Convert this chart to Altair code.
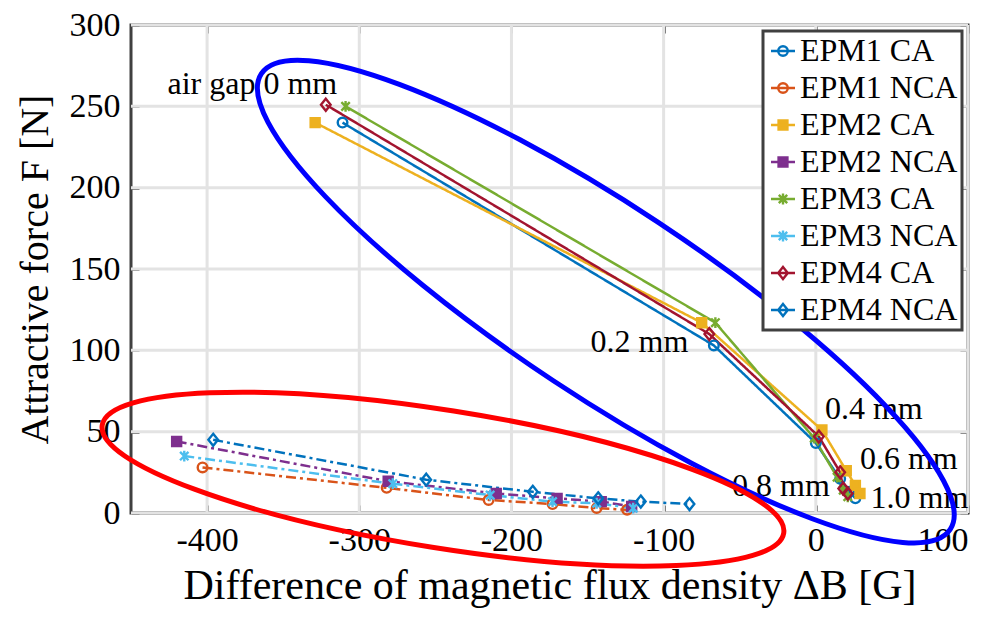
import altair as alt
import pandas as pd

# ---------------- data ----------------
series_names = ["EPM1 CA", "EPM1 NCA", "EPM2 CA", "EPM2 NCA",
                "EPM3 CA", "EPM3 NCA", "EPM4 CA", "EPM4 NCA"]
air_gap_mm = [0.0, 0.2, 0.4, 0.6, 0.8, 1.0]

epm1_ca_dB = [-311, -67, 0, 16, 22, 26]
epm1_ca_F = [240, 103, 43, 21, 13, 9]
epm1_nca_dB = [-403, -282, -215, -173, -144, -124]
epm1_nca_F = [28, 15.5, 8, 5.5, 3, 2]
epm2_ca_dB = [-329, -75, 4, 20, 26, 29]
epm2_ca_F = [240, 117, 51, 26, 17, 12]
epm2_nca_dB = [-420, -281, -210, -170, -141, -121]
epm2_nca_F = [44, 19.5, 12, 9, 7, 4]
epm3_ca_dB = [-309, -66, -1, 14, 18, 21]
epm3_ca_F = [250, 117, 46, 22, 14, 10]
epm3_nca_dB = [-415, -278, -214, -173, -144, -120]
epm3_nca_F = [35, 18, 11, 7, 6, 3]
epm4_ca_dB = [-322, -70, 2, 16, 18, 21]
epm4_ca_F = [251, 110, 47, 25, 15, 12]
epm4_nca_dB = [-396, -256, -186, -143, -115, -83]
epm4_nca_F = [45, 20.5, 13, 9, 7, 5.5]

x_ticks = [-400, -300, -200, -100, 0, 100]
y_ticks = [0, 50, 100, 150, 200, 250, 300]

ann_text = ["air gap 0 mm", "0.2 mm", "0.4 mm", "0.6 mm", "0.8 mm", "1.0 mm"]
ann_dB = [-426, -148, 6, 29, -55, 36]
ann_F = [264, 105, 64, 33, 16.5, 9.5]

# highlight ellipses (centre in data units)
blue_ell_dB, blue_ell_F = [-138], [130]
red_ell_dB, red_ell_F = [-245], [20.8]

# ---------------- build table ----------------
all_dB = [epm1_ca_dB, epm1_nca_dB, epm2_ca_dB, epm2_nca_dB,
          epm3_ca_dB, epm3_nca_dB, epm4_ca_dB, epm4_nca_dB]
all_F = [epm1_ca_F, epm1_nca_F, epm2_ca_F, epm2_nca_F,
         epm3_ca_F, epm3_nca_F, epm4_ca_F, epm4_nca_F]
rows = []
for name, bs, fs in zip(series_names, all_dB, all_F):
    for i, (b, f) in enumerate(zip(bs, fs)):
        rows.append({"series": name, "idx": i, "gap": air_gap_mm[i], "B": b, "F": f})
df = pd.DataFrame(rows)
ann_df = pd.DataFrame({"text": ann_text, "B": ann_dB, "F": ann_F})

# ---------------- styles ----------------
FONT = "Liberation Serif"
colors = ["#0072BD", "#D95319", "#EDB120", "#7E2F8E",
          "#77AC30", "#4DBEEE", "#A2142F", "#0072BD"]
fills = ["transparent", "transparent", "#EDB120", "#7E2F8E",
         "transparent", "transparent", "transparent", "transparent"]
solid, dashdot = [1, 0], [10, 4, 3, 4]
dashes = [solid, dashdot, solid, dashdot, solid, dashdot, solid, dashdot]

circ = "M-0.8,0A0.8,0.8 0 1,1 0.8,0A0.8,0.8 0 1,1 -0.8,0Z"
sq = "M-0.75,-0.75L0.75,-0.75L0.75,0.75L-0.75,0.75Z"
ast = "M-0.7,-0.7L0.7,0.7M-0.7,0.7L0.7,-0.7M0,-0.9L0,0.9"
dia = "M0,-1L0.8,0L0,1L-0.8,0Z"
markers = [circ, circ, sq, sq, ast, ast, dia, dia]

lc = "M-1,0L1,0"
l_circ = lc + "M-0.4,0A0.4,0.4 0 1,1 0.4,0A0.4,0.4 0 1,1 -0.4,0Z"
l_sq = lc + "M-0.37,-0.37L0.37,-0.37L0.37,0.37L-0.37,0.37Z"
l_ast = lc + "M-0.35,-0.35L0.35,0.35M-0.35,0.35L0.35,-0.35M0,-0.45L0,0.45"
l_dia = lc + "M0,-0.5L0.4,0L0,0.5L-0.4,0Z"
legend_markers = [l_circ, l_circ, l_sq, l_sq, l_ast, l_ast, l_dia, l_dia]


def ellipse_path(r):
    k = 0.5523
    return (f"M1,0 C1,{k*r:.4f} {k:.4f},{r:.4f} 0,{r:.4f} "
            f"C{-k:.4f},{r:.4f} -1,{k*r:.4f} -1,0 "
            f"C-1,{-k*r:.4f} {-k:.4f},{-r:.4f} 0,{-r:.4f} "
            f"C{k:.4f},{-r:.4f} 1,{-k*r:.4f} 1,0 Z")


x_scale = alt.Scale(domain=[-450, 100], nice=False, zero=False)
y_scale = alt.Scale(domain=[0, 300], nice=False, zero=False)

AX = dict(labelFont=FONT, labelColor="black", tickColor="#404040", tickWidth=2.5,
          tickSize=8, offset=-8, domain=False, grid=False, titleFont=FONT,
          titleColor="black", titleFontWeight="normal")

x_bottom = alt.Axis(values=x_ticks, labelExpr="'' + datum.value", labelFontSize=34,
                    labelPadding=10, title="Difference of magnetic flux density  ΔB [G]",
                    titleFontSize=42, titlePadding=8, **AX)
y_left = alt.Axis(values=y_ticks, labelFontSize=34, labelPadding=11,
                  title="Attractive force F [N]", titleFontSize=40, titlePadding=14, **AX)
x_top = alt.Axis(orient="top", values=x_ticks, labels=False, title=None, **AX)
y_right = alt.Axis(orient="right", values=y_ticks, labels=False, title=None, **AX)

xn = alt.X("B:Q", scale=x_scale, axis=None)
yn = alt.Y("F:Q", scale=y_scale, axis=None)

grid_x = alt.Chart(pd.DataFrame({"v": x_ticks})).mark_rule(
    color="#e3e3e3", strokeWidth=3).encode(x=alt.X("v:Q", scale=x_scale, axis=None))
grid_y = alt.Chart(pd.DataFrame({"v": y_ticks})).mark_rule(
    color="#e3e3e3", strokeWidth=3).encode(y=alt.Y("v:Q", scale=y_scale, axis=None))

lines = alt.Chart(df).mark_line(strokeWidth=2.5).encode(
    x=alt.X("B:Q", scale=x_scale, axis=x_bottom),
    y=alt.Y("F:Q", scale=y_scale, axis=y_left),
    stroke=alt.Stroke("series:N", scale=alt.Scale(domain=series_names, range=colors), legend=None),
    strokeDash=alt.StrokeDash("series:N", scale=alt.Scale(domain=series_names, range=dashes), legend=None),
    order=alt.Order("idx:Q"),
)

points = alt.Chart(df).mark_point(size=144, strokeWidth=2.4, opacity=1).encode(
    x=xn, y=yn,
    stroke=alt.Stroke("series:N", scale=alt.Scale(domain=series_names, range=colors), legend=None),
    fill=alt.Fill("series:N", scale=alt.Scale(domain=series_names, range=fills), legend=None),
    shape=alt.Shape("series:N", scale=alt.Scale(domain=series_names, range=markers), legend=None),
)

ann = alt.Chart(ann_df).mark_text(align="left", baseline="middle", font=FONT,
                                  fontSize=32, color="black").encode(
    x=alt.X("B:Q", scale=x_scale, axis=x_top),
    y=alt.Y("F:Q", scale=y_scale, axis=y_right),
    text="text:N",
)

blue_ell = alt.Chart(pd.DataFrame({"B": blue_ell_dB, "F": blue_ell_F})).mark_point(
    shape=ellipse_path(95 / 413), size=4 * 413 ** 2, angle=33.5, filled=False,
    stroke="#0000FF", strokeWidth=5, opacity=1).encode(x=xn, y=yn)
red_ell = alt.Chart(pd.DataFrame({"B": red_ell_dB, "F": red_ell_F})).mark_point(
    shape=ellipse_path(69 / 345), size=4 * 345 ** 2, angle=9, filled=False,
    stroke="#FF0000", strokeWidth=5, opacity=1).encode(x=xn, y=yn)

leg = alt.Legend(title=None, orient="top-right", offset=6)
legend_layer = alt.Chart(df).transform_filter("false").mark_point(
    size=576, strokeWidth=2.4, opacity=1).encode(
    x=xn, y=yn,
    stroke=alt.Stroke("series:N", scale=alt.Scale(domain=series_names, range=colors), legend=leg),
    fill=alt.Fill("series:N", scale=alt.Scale(domain=series_names, range=fills), legend=leg),
    shape=alt.Shape("series:N", scale=alt.Scale(domain=series_names, range=legend_markers), legend=leg),
)

chart = alt.layer(
    grid_x, grid_y, lines, points, ann, legend_layer, blue_ell, red_ell
).resolve_scale(
    stroke="independent", fill="independent", shape="independent", strokeDash="independent"
).resolve_axis(
    x="independent", y="independent"
).properties(
    width=837, height=488,
    padding={"left": 123, "top": 17, "right": 23, "bottom": 99},
    autosize=alt.AutoSizeParams(type="none"),
).configure_view(
    stroke="#404040", strokeWidth=3
).configure_legend(
    labelFont=FONT, labelFontSize=32, labelColor="black", labelOffset=1,
    symbolSize=576, symbolStrokeWidth=2.4, rowPadding=5, padding=4,
    strokeColor="#404040", strokeWidth=3, fillColor="white", cornerRadius=0,
)

chart.save("out.html", embed_options={"renderer": "svg", "actions": False})
